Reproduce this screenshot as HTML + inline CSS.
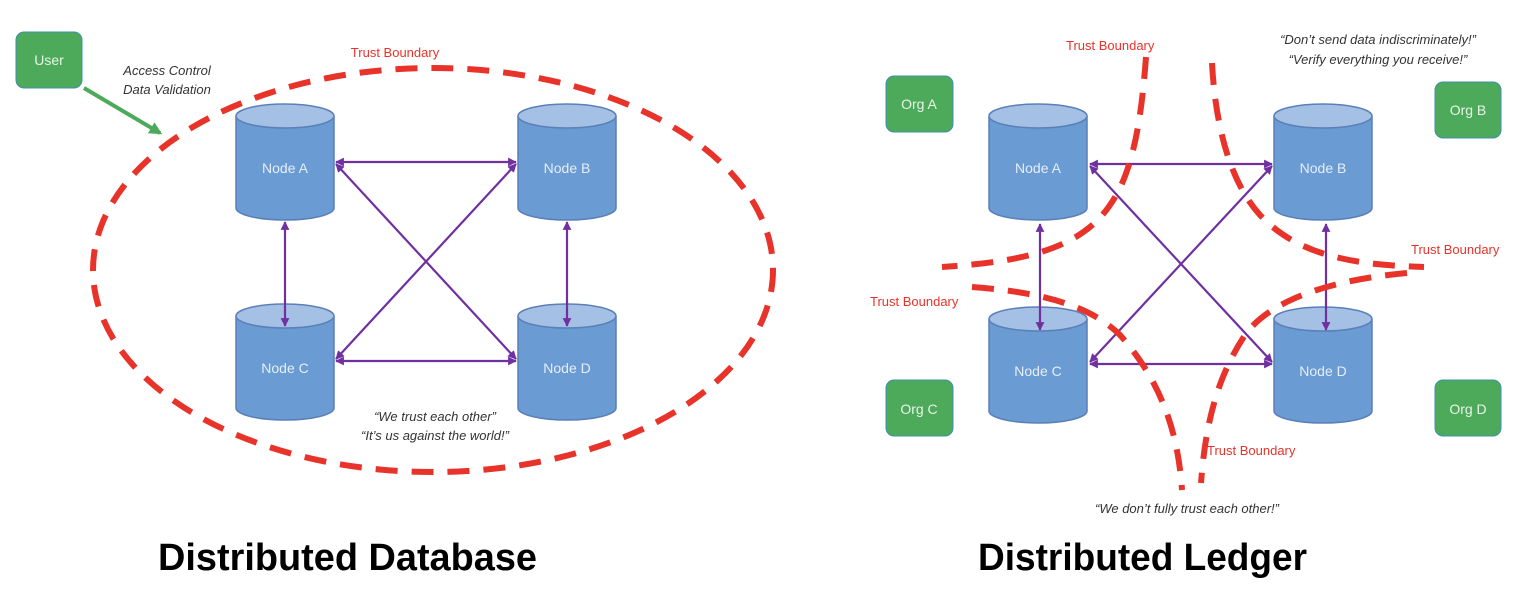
<!DOCTYPE html>
<html><head><meta charset="utf-8"><style>
html,body{margin:0;padding:0;background:#fff;}
svg{display:block;font-family:"Liberation Sans",sans-serif;}
</style></head><body>
<svg width="1518" height="594" viewBox="0 0 1518 594" xmlns="http://www.w3.org/2000/svg">
<defs>
<marker id="ah" viewBox="0 0 10 10" refX="9" refY="5" markerWidth="4" markerHeight="4" orient="auto-start-reverse"><path d="M0,0 L10,5 L0,10 z" fill="#7030a0"/></marker>
<marker id="gh" viewBox="0 0 10 10" refX="8" refY="5" markerWidth="3.2" markerHeight="3.2" orient="auto"><path d="M0,0 L10,5 L0,10 z" fill="#4caa5a"/></marker>
<g id="cyl">
<path d="M0,12 L0,104 A49,12 0 0 0 98,104 L98,12" fill="#6a9bd2" stroke="#5b7fb8" stroke-width="1.5"/>
<ellipse cx="49" cy="12" rx="49" ry="12" fill="#a4c0e4" stroke="#5b7fb8" stroke-width="1.5"/>
</g>
</defs>

<!-- LEFT -->
<ellipse cx="433" cy="270" rx="340" ry="202" fill="none" stroke="#e8332a" stroke-width="6" stroke-dasharray="22 14"/>
<rect x="16" y="32" width="66" height="56" rx="8" fill="#4caa5a" stroke="#3f8fb0" stroke-width="1"/>
<text x="49" y="65" font-size="14" fill="#e8f5e8" text-anchor="middle">User</text>
<line x1="84" y1="88" x2="160" y2="133" stroke="#4caa5a" stroke-width="4" marker-end="url(#gh)"/>
<text x="167" y="75" font-size="13" font-style="italic" fill="#333" text-anchor="middle">Access Control</text>
<text x="167" y="94" font-size="13" font-style="italic" fill="#333" text-anchor="middle">Data Validation</text>
<text x="395" y="57" font-size="13" fill="#e8332a" text-anchor="middle">Trust Boundary</text>

<use href="#cyl" x="236" y="104"/>
<use href="#cyl" x="518" y="104"/>
<use href="#cyl" x="236" y="304"/>
<use href="#cyl" x="518" y="304"/>
<text x="285" y="173" font-size="14" fill="#e6eef8" text-anchor="middle">Node A</text>
<text x="567" y="173" font-size="14" fill="#e6eef8" text-anchor="middle">Node B</text>
<text x="285" y="373" font-size="14" fill="#e6eef8" text-anchor="middle">Node C</text>
<text x="567" y="373" font-size="14" fill="#e6eef8" text-anchor="middle">Node D</text>
<g stroke="#7030a0" stroke-width="2.2" fill="none" marker-start="url(#ah)" marker-end="url(#ah)">
<line x1="336" y1="162" x2="516" y2="162"/>
<line x1="336" y1="361" x2="516" y2="361"/>
<line x1="285" y1="222" x2="285" y2="326"/>
<line x1="567" y1="222" x2="567" y2="326"/>
<line x1="336" y1="164" x2="516" y2="359"/>
<line x1="516" y1="164" x2="336" y2="359"/>
</g>
<text x="435" y="421" font-size="13" font-style="italic" fill="#333" text-anchor="middle">“We trust each other”</text>
<text x="435" y="440" font-size="13" font-style="italic" fill="#333" text-anchor="middle">“It’s us against the world!”</text>
<text x="158" y="570" font-size="38" font-weight="bold" fill="#000" textLength="379" lengthAdjust="spacingAndGlyphs">Distributed Database</text>

<!-- RIGHT -->
<g fill="#4caa5a" stroke="#3f8fb0" stroke-width="1">
<rect x="886" y="76" width="67" height="56" rx="8"/>
<rect x="1435" y="82" width="66" height="56" rx="8"/>
<rect x="886" y="380" width="67" height="56" rx="8"/>
<rect x="1435" y="380" width="66" height="56" rx="8"/>
</g>
<g font-size="14" fill="#e8f5e8" text-anchor="middle">
<text x="919" y="109">Org A</text>
<text x="1468" y="115">Org B</text>
<text x="919" y="414">Org  C</text>
<text x="1468" y="414">Org D</text>
</g>
<use href="#cyl" x="989" y="104"/>
<use href="#cyl" x="1274" y="104"/>
<use href="#cyl" x="989" y="307"/>
<use href="#cyl" x="1274" y="307"/>
<text x="1038" y="173" font-size="14" fill="#e6eef8" text-anchor="middle">Node A</text>
<text x="1323" y="173" font-size="14" fill="#e6eef8" text-anchor="middle">Node B</text>
<text x="1038" y="376" font-size="14" fill="#e6eef8" text-anchor="middle">Node C</text>
<text x="1323" y="376" font-size="14" fill="#e6eef8" text-anchor="middle">Node D</text>
<g stroke="#7030a0" stroke-width="2.2" fill="none" marker-start="url(#ah)" marker-end="url(#ah)">
<line x1="1090" y1="164" x2="1272" y2="164"/>
<line x1="1090" y1="364" x2="1272" y2="364"/>
<line x1="1040" y1="224" x2="1040" y2="330"/>
<line x1="1326" y1="224" x2="1326" y2="330"/>
<line x1="1090" y1="166" x2="1272" y2="362"/>
<line x1="1272" y1="166" x2="1090" y2="362"/>
</g>
<g stroke="#e8332a" stroke-width="6" fill="none" stroke-dasharray="22 14">
<path d="M1146,57 C1142,110 1135,170 1110,205 C1080,250 1020,262 942,267"/>
<path d="M1212,63 C1215,120 1228,180 1260,215 C1300,258 1360,265 1424,267"/>
<path d="M972,287 C1040,292 1090,305 1120,335 C1160,380 1178,430 1182,490"/>
<path d="M1407,273 C1330,280 1270,300 1245,335 C1215,380 1205,430 1201,483"/>
</g>
<g font-size="13" fill="#e8332a">
<text x="1066" y="50">Trust Boundary</text>
<text x="1411" y="254">Trust Boundary</text>
<text x="870" y="306">Trust Boundary</text>
<text x="1207" y="455">Trust Boundary</text>
</g>
<text x="1378" y="44" font-size="13" font-style="italic" fill="#333" text-anchor="middle">“Don’t send data indiscriminately!”</text>
<text x="1378" y="64" font-size="13" font-style="italic" fill="#333" text-anchor="middle">“Verify everything you receive!”</text>
<text x="1187" y="513" font-size="13" font-style="italic" fill="#333" text-anchor="middle">“We don’t fully trust each other!”</text>
<text x="978" y="570" font-size="38" font-weight="bold" fill="#000" textLength="329" lengthAdjust="spacingAndGlyphs">Distributed Ledger</text>
</svg>
</body></html>
